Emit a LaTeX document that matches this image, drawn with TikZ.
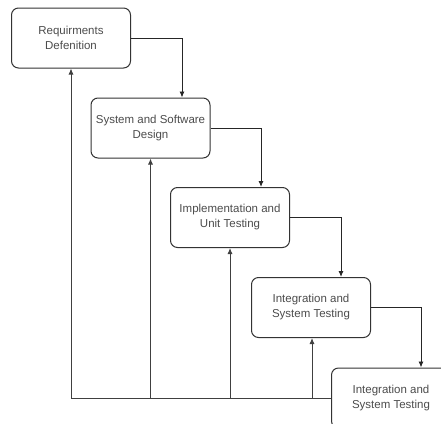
\documentclass[tikz,border=0pt]{standalone}
\usepackage{fontspec}
\setmainfont{Liberation Sans}
\usetikzlibrary{arrows.meta,calc}
\begin{document}
\begin{tikzpicture}[x=1pt,y=-1pt,
  stagebox/.style={draw=black!80,line width=1pt,rounded corners=7pt,fill=white,
    minimum width=119pt,minimum height=60pt,inner sep=0pt,align=center,
    text=black!70,font=\fontsize{11.5}{15}\selectfont},
  flow/.style={draw=black!85,line width=0.9pt,-{Latex[length=6pt,width=5pt]}},
  back/.style={draw=black!75,line width=0.9pt},
  backarrow/.style={back,-{Latex[length=6pt,width=5pt]}}]
\useasboundingbox (0,0) rectangle (441,423);
\clip (0,0) rectangle (441,423);
\node[stagebox] (b1) at (71,38) {Requirments\\Defenition};
\node[stagebox] (b2) at (150.5,128) {System and Software\\Design};
\node[stagebox] (b3) at (230,217.5) {Implementation and\\Unit Testing};
\node[stagebox] (b4) at (311,307.5) {Integration and\\System Testing};
\node[stagebox] (b5) at (391,398) {Integration and\\System Testing};
\draw[flow] (b1.east) -| ([xshift=31.5pt]b2.north);
\draw[flow] (b2.east) -| ([xshift=31pt]b3.north);
\draw[flow] (b3.east) -| ([xshift=30pt]b4.north);
\draw[flow] (b4.east) -| ([xshift=30pt]b5.north);
\coordinate (f1) at (b1.south |- b5.west);
\coordinate (f2) at (b2.south |- b5.west);
\coordinate (f3) at (b3.south |- b5.west);
\coordinate (f4) at ([xshift=1pt]b4.south |- b5.west);
\draw[back] (b5.west) -- (f1);
\draw[backarrow] (f1) -- (b1.south);
\draw[backarrow] (f2) -- (b2.south);
\draw[backarrow] (f3) -- (b3.south);
\draw[backarrow] (f4) -- ([xshift=1pt]b4.south);
\end{tikzpicture}
\end{document}
